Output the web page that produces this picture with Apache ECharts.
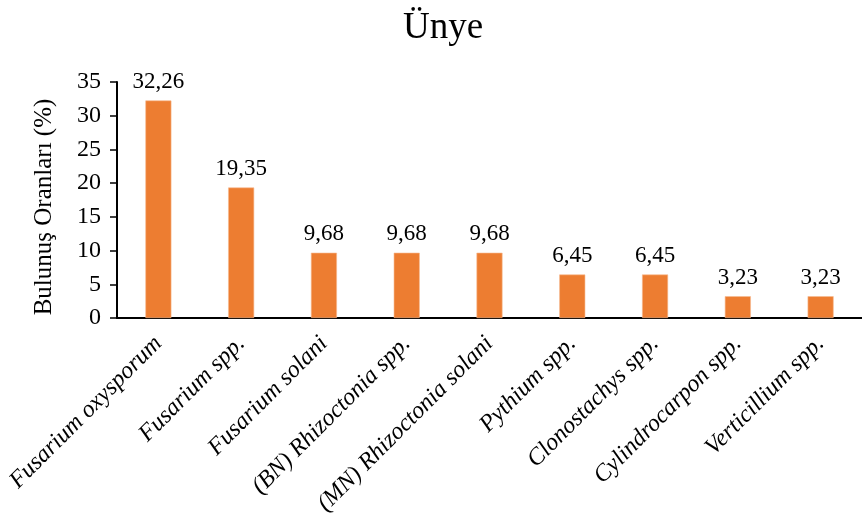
<!DOCTYPE html>
<html>
<head>
<meta charset="utf-8">
<script src="https://cdn.jsdelivr.net/npm/echarts@6/dist/echarts.min.js"></script>
<style>
  html, body { margin: 0; padding: 0; background: #fff; }
  #chart { width: 862px; height: 519px; }
</style>
</head>
<body>
<div id="chart"></div>
<script>
// Isolation rates of fungal species, Ünye
const categories = [
  'Fusarium oxysporum',
  'Fusarium spp.',
  'Fusarium solani',
  '(BN) Rhizoctonia spp.',
  '(MN) Rhizoctonia solani',
  'Pythium spp.',
  'Clonostachys spp.',
  'Cylindrocarpon spp.',
  'Verticillium spp.'
];
const values = [32.26, 19.35, 9.68, 9.68, 9.68, 6.45, 6.45, 3.23, 3.23];
const yTicks = [0, 5, 10, 15, 20, 25, 30, 35];

const serif = '"Liberation Serif", "DejaVu Serif", serif';
const chart = echarts.init(document.getElementById('chart'));

chart.setOption({
  animation: false,
  backgroundColor: '#ffffff',
  title: {
    text: 'Ünye',
    left: 398,
    top: 5,
    textStyle: { fontFamily: serif, fontSize: 37, fontWeight: 'normal', color: '#000' }
  },
  grid: { left: 117, top: 82, width: 747, height: 236 },
  xAxis: {
    type: 'category',
    data: categories,
    axisLine: { lineStyle: { color: '#000', width: 2 } },
    axisTick: { show: false },
    axisLabel: {
      interval: 0,
      rotate: 45,
      margin: 22,
      fontFamily: serif,
      fontStyle: 'italic',
      fontSize: 24,
      color: '#000'
    }
  },
  yAxis: {
    type: 'value',
    min: yTicks[0],
    max: yTicks[yTicks.length - 1],
    interval: 5,
    name: 'Bulunuş Oranları (%)',
    nameLocation: 'middle',
    nameGap: 60,
    nameTextStyle: { fontFamily: serif, fontSize: 25, color: '#000', padding: [0, 14, 0, 0] },
    splitLine: { show: false },
    axisLine: { show: true, lineStyle: { color: '#000', width: 2 } },
    axisTick: { show: true, length: 7, lineStyle: { color: '#000', width: 1.5 } },
    axisLabel: { fontFamily: serif, fontSize: 24, color: '#000', margin: 16 }
  },
  series: [{
    type: 'bar',
    data: values,
    barWidth: 26,
    itemStyle: { color: '#ED7D31', borderColor: '#F6B88E', borderWidth: 0.6 },
    label: {
      show: true,
      position: 'top',
      distance: 7,
      fontFamily: serif,
      fontSize: 23,
      color: '#000',
      formatter: p => p.value.toFixed(2).replace('.', ',')
    }
  }]
});
</script>
</body>
</html>
